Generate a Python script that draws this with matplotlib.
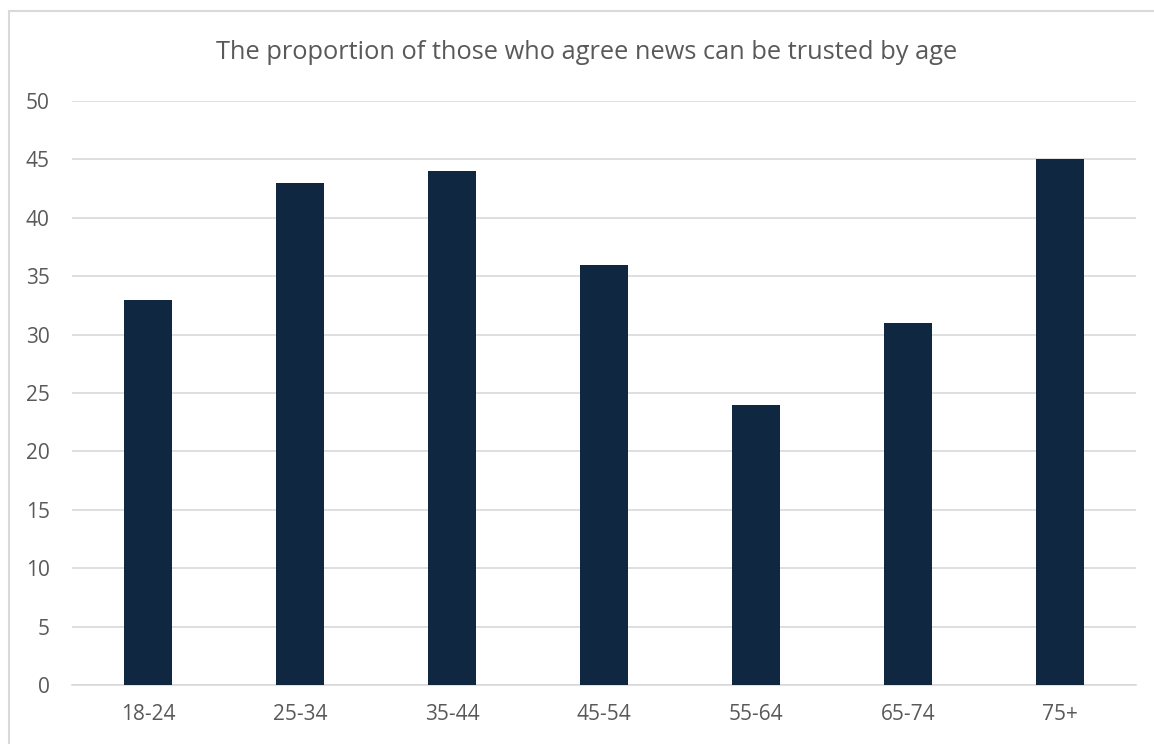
import matplotlib
matplotlib.use("Agg")
import matplotlib.pyplot as plt
from matplotlib.patches import Rectangle

age_groups = ["18-24", "25-34", "35-44", "45-54", "55-64", "65-74", "75+"]
trust_pct = [33, 43, 44, 36, 24, 31, 45]

y_ticks = list(range(0, 55, 5))

bar_color = "#0f2741"
text_color = "#595959"
grid_color = "#d9d9d9"

plt.rcParams["font.family"] = ["Open Sans", "DejaVu Sans"]

fig = plt.figure(figsize=(11.54, 7.44), dpi=100)
ax = fig.add_axes([0.0624, 0.0793, 0.9220, 0.7849])

x = list(range(len(age_groups)))
ax.bar(x, trust_pct, width=0.316, color=bar_color, zorder=3)

ax.set_xlim(-0.5, len(age_groups) - 0.5)
ax.set_ylim(0, 50)
ax.set_yticks(y_ticks)
ax.set_xticks(x)
ax.set_xticklabels(age_groups)

ax.grid(axis="y", color=grid_color, linewidth=1.2, zorder=0)
for side in ["top", "right", "left"]:
    ax.spines[side].set_visible(False)
ax.spines["bottom"].set_color(grid_color)
ax.spines["bottom"].set_linewidth(1.2)

ax.tick_params(axis="both", length=0, labelsize=15, colors=text_color)
ax.tick_params(axis="y", pad=16)
ax.tick_params(axis="x", pad=14)

fig.text(0.508, 0.929, "The proportion of those who agree news can be trusted by age",
         ha="center", va="center", fontsize=18.3, color=text_color)

# outer chart border
fig.patches.append(Rectangle((9 / 1154, -0.01), 1.02, (744 - 11) / 744 + 0.01,
                             transform=fig.transFigure, fill=False,
                             edgecolor=grid_color, linewidth=1.5))

fig.savefig("out.png", dpi=100)
